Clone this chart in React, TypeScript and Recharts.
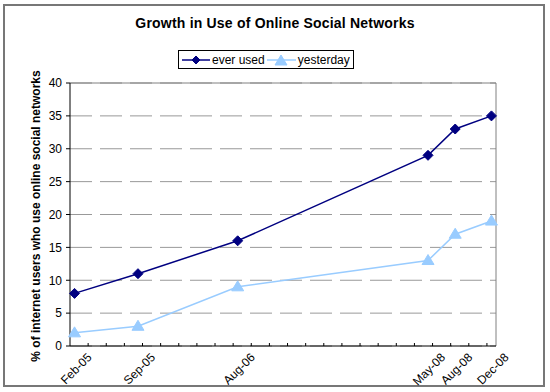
import React from 'react';
import { LineChart, Line, XAxis, YAxis, CartesianGrid, Legend, ReferenceLine } from 'recharts';

// months since Feb-05
const months = [0, 7, 18, 39, 42, 46];
const dateLabels = ['Feb-05', 'Sep-05', 'Aug-06', 'May-08', 'Aug-08', 'Dec-08'];
const everUsed = [8, 11, 16, 29, 33, 35];
const yesterday = [2, 3, 9, 13, 17, 19];
const yTicks = [0, 5, 10, 15, 20, 25, 30, 35, 40];

const NAVY = '#000080';
const LIGHT = '#99CCFF';
const FONT = '"Liberation Sans", Arial, sans-serif';

const minorTicks = Array.from({ length: 23 }, (_, i) => 1.5 + 2 * i);

const data = months.map((m, i) => ({ m, everUsed: everUsed[i], yesterday: yesterday[i] }));

const Diamond = ({ cx, cy, r = 5 }: any) => (
  <polygon points={`${cx},${cy - r} ${cx + r},${cy} ${cx},${cy + r} ${cx - r},${cy}`} fill={NAVY} stroke={NAVY} />
);

const Triangle = ({ cx, cy }: any) => (
  <polygon points={`${cx},${cy - 6} ${cx + 6},${cy + 4} ${cx - 6},${cy + 4}`} fill={LIGHT} stroke={LIGHT} />
);

const XTick = ({ x, y, payload }: any) => {
  const idx = months.indexOf(payload.value);
  if (idx >= 0) {
    const ax = x + 18;
    const ay = y + 12;
    return (
      <text x={ax} y={ay} textAnchor="end" fontSize={12} fill="#000" fontFamily={FONT}
        transform={`rotate(-45 ${ax} ${ay})`}>
        {dateLabels[idx]}
      </text>
    );
  }
  return <line x1={x} x2={x} y1={y - 3} y2={y} stroke="#000" />;
};

const LegendBox = () => (
  <div style={{
    border: '1px solid #000', background: '#fff', height: 19, display: 'inline-flex', alignItems: 'center',
    fontFamily: FONT, fontSize: 12, padding: '0 3px 0 3px', boxSizing: 'border-box', whiteSpace: 'nowrap',
  }}>
    <svg width={28} height={12} style={{ flexShrink: 0 }}>
      <line x1={0} x2={28} y1={6} y2={6} stroke={NAVY} strokeWidth={1.5} />
      <Diamond cx={14} cy={6} r={4} />
    </svg>
    <span style={{ marginLeft: 2 }}>ever used</span>
    <svg width={29} height={12} style={{ marginLeft: 2, flexShrink: 0 }}>
      <line x1={0} x2={29} y1={6} y2={6} stroke={LIGHT} strokeWidth={1.5} />
      <Triangle cx={14} cy={7} />
    </svg>
    <span style={{ marginLeft: 2 }}>yesterday</span>
  </div>
);

export default function App() {
  return (
    <div style={{ position: 'absolute', left: 0, top: 0, width: 550, height: 392, background: '#fff' }}>
      <div style={{
        position: 'absolute', left: 3, top: 4, width: 542, height: 383,
        border: '2px solid #777', boxSizing: 'border-box',
      }} />
      <div style={{
        position: 'absolute', left: 0, top: 15, width: 550, textAlign: 'center',
        fontFamily: FONT, fontSize: 14, fontWeight: 'bold', lineHeight: '17px', letterSpacing: 0.2,
      }}>
        Growth in Use of Online Social Networks
      </div>
      <LineChart width={550} height={392} data={data} margin={{ top: 83, right: 54, bottom: 6, left: 30 }}
        style={{ position: 'absolute', left: 0, top: 0 }}>
        <CartesianGrid horizontal vertical={false} stroke="#999" strokeDasharray="22 8" />
        <XAxis dataKey="m" type="number" domain={[-0.5, 46.5]} ticks={[...minorTicks, ...months]}
          interval={0} height={40} tickSize={0} tickMargin={0} tickLine={false} tick={<XTick />}
          axisLine={{ stroke: '#000' }} />
        <YAxis domain={[0, 40]} ticks={yTicks} width={40} tickSize={4} tickMargin={4} interval={0}
          tick={{ fontSize: 12, fill: '#000', fontFamily: FONT }} axisLine={{ stroke: '#000' }}
          tickLine={{ stroke: '#000' }}
          label={{
            content: () => (
              <text x={40} y={216} transform="rotate(-90 40 216)" textAnchor="middle" fontSize={12}
                fontWeight="bold" fontFamily={FONT} fill="#000">
                % of internet users who use online social networks
              </text>
            ),
          }} />
        <ReferenceLine y={40} stroke="#808080" />
        <ReferenceLine x={46.5} stroke="#808080" />
        <Legend layout="horizontal" verticalAlign="middle" align="center" content={<LegendBox />}
          wrapperStyle={{ position: 'absolute', left: 178, top: 50, width: 'auto', height: 19 }} />
        <Line type="linear" dataKey="everUsed" name="ever used" stroke={NAVY} strokeWidth={1.5}
          dot={(p: any) => <Diamond key={`d${p.index}`} cx={p.cx} cy={p.cy} />} isAnimationActive={false} />
        <Line type="linear" dataKey="yesterday" name="yesterday" stroke={LIGHT} strokeWidth={1.5}
          dot={(p: any) => <Triangle key={`t${p.index}`} cx={p.cx} cy={p.cy} />} isAnimationActive={false} />
      </LineChart>
    </div>
  );
}
